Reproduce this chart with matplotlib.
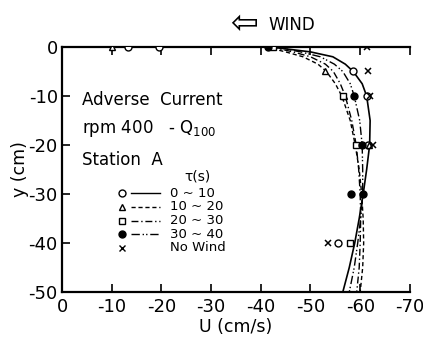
import matplotlib
matplotlib.use("Agg")
import matplotlib.pyplot as plt
from matplotlib.lines import Line2D

# depth (cm) for the fitted curves
curve_y = [0, -1, -2, -3.5, -5, -7.5, -10, -15, -20, -25, -30, -35, -40, -45, -50]

# fitted profiles U (cm/s)
u_0_10 = [-42, -50, -54.5, -57, -58.6, -60.4, -61.3, -62, -61.9, -61.3, -60.6, -59.8, -58.9, -57.8, -56.5]
u_10_20 = [-41, -45, -48.5, -51.5, -53.2, -55, -56.3, -58, -59, -59.8, -60.3, -60.6, -60.7, -60.5, -60]
u_20_30 = [-42, -46.5, -50, -53, -54.6, -56, -57, -58.3, -59.2, -59.7, -60, -60.1, -60, -59.8, -59.3]
u_30_40 = [-43, -48, -52, -54.8, -56.5, -58, -58.8, -59.9, -60.4, -60.5, -60.5, -60.1, -59.5, -58.8, -57.8]

# measured points
circ_u = [-13.2, -19.5, -58.6, -61.3, -61.6, -55.5]
circ_y = [0, 0, -5, -10, -20, -40]
tri_u = [-10, -53, -56.8, -61.8]
tri_y = [0, -5, -10, -20]
sq_u = [-42.5, -56.5, -59.2, -58]
sq_y = [0, -10, -20, -40]
dot_u = [-41.5, -58.8, -60.4, -58.2, -60.6]
dot_y = [0, -10, -20, -30, -30]
x_u = [-61.3, -61.5, -62, -62.6, -53.5]
x_y = [0, -5, -10, -20, -40]

x_ticks = [0, -10, -20, -30, -40, -50, -60, -70]
y_ticks = [0, -10, -20, -30, -40, -50]

plt.rcParams['font.family'] = ['DejaVu Sans']

fig = plt.figure(figsize=(4.23, 3.42), dpi=100)
ax = fig.add_axes([0.1466, 0.146, 0.8224, 0.7166])

lw = 1.2
ax.plot(u_0_10, curve_y, color='black', lw=lw, ls='-')
ax.plot(u_10_20, curve_y, color='black', lw=1.0, ls=(0, (3, 2)))
ax.plot(u_20_30, curve_y, color='black', lw=1.0, ls=(0, (5, 2, 1, 2)))
ax.plot(u_30_40, curve_y, color='black', lw=1.0, ls=(0, (6, 2, 1, 1.5, 1, 2)))

ms = 5
ax.plot(circ_u, circ_y, 'o', mfc='white', mec='black', ms=ms, mew=1.0, zorder=3)
ax.plot(tri_u, tri_y, '^', mfc='white', mec='black', ms=ms, mew=1.0, zorder=3)
ax.plot(sq_u, sq_y, 's', mfc='white', mec='black', ms=ms - 0.5, mew=1.0, zorder=3)
ax.plot(dot_u, dot_y, 'o', color='black', ms=ms, zorder=3)
ax.plot(x_u, x_y, 'x', color='black', ms=ms, mew=1.1, zorder=3)

ax.set_xlim(0, -70)
ax.set_ylim(-50, 0)
ax.set_xticks(x_ticks)
ax.set_yticks(y_ticks)
ax.set_xticklabels([str(v) for v in x_ticks])
ax.set_yticklabels([str(v) for v in y_ticks])
ax.spines['right'].set_visible(False)
for s in ['left', 'bottom', 'top']:
    ax.spines[s].set_linewidth(1.6)
ax.tick_params(axis='x', direction='in', length=6, width=1.2, top=True, labelsize=13, pad=4)
ax.tick_params(axis='y', direction='in', length=6, width=1.2, labelsize=13, pad=3)
ax.set_xlabel('U (cm/s)', fontsize=12.5, labelpad=2)
ax.set_ylabel('y (cm)', fontsize=12.5, labelpad=0)

ax.text(0.058, 0.784, 'Adverse  Current', transform=ax.transAxes, fontsize=12, va='center')
ax.text(0.058, 0.669, 'rpm 400   - Q$_{100}$', transform=ax.transAxes, fontsize=12, va='center')
ax.text(0.058, 0.539, 'Station  A', transform=ax.transAxes, fontsize=12, va='center')
ax.text(0.39, 0.47, 'τ(s)', transform=ax.transAxes, fontsize=10, va='center', ha='center')

fig.text(0.545, 0.93, '⇦', fontsize=24, va='center', ha='left')
fig.text(0.635, 0.928, 'WIND', fontsize=12, va='center', ha='left')

# hand-made legend
leg_labels = ['0 ~ 10', '10 ~ 20', '20 ~ 30', '30 ~ 40', 'No Wind']
leg_markers = [('o', 'white'), ('^', 'white'), ('s', 'white'), ('o', 'black'), ('x', 'black')]
leg_styles = ['-', (0, (3, 2)), (0, (5, 2, 1, 2)), (0, (6, 2, 1, 1.5, 1, 2)), None]
y0 = 0.404
dy = 0.056
for i, lab in enumerate(leg_labels):
    yy = y0 - i * dy
    m, fc = leg_markers[i]
    ax.add_line(Line2D([0.172], [yy], transform=ax.transAxes, marker=m, mfc=fc, mec='black',
                       color='black', ms=5, mew=1.0, ls='none'))
    if leg_styles[i] is not None:
        ax.add_line(Line2D([0.197, 0.282], [yy, yy], transform=ax.transAxes, color='black',
                           lw=1.0, ls=leg_styles[i]))
    ax.text(0.31, yy, lab, transform=ax.transAxes, fontsize=9.5, va='center')

fig.savefig('out.png', dpi=100)
